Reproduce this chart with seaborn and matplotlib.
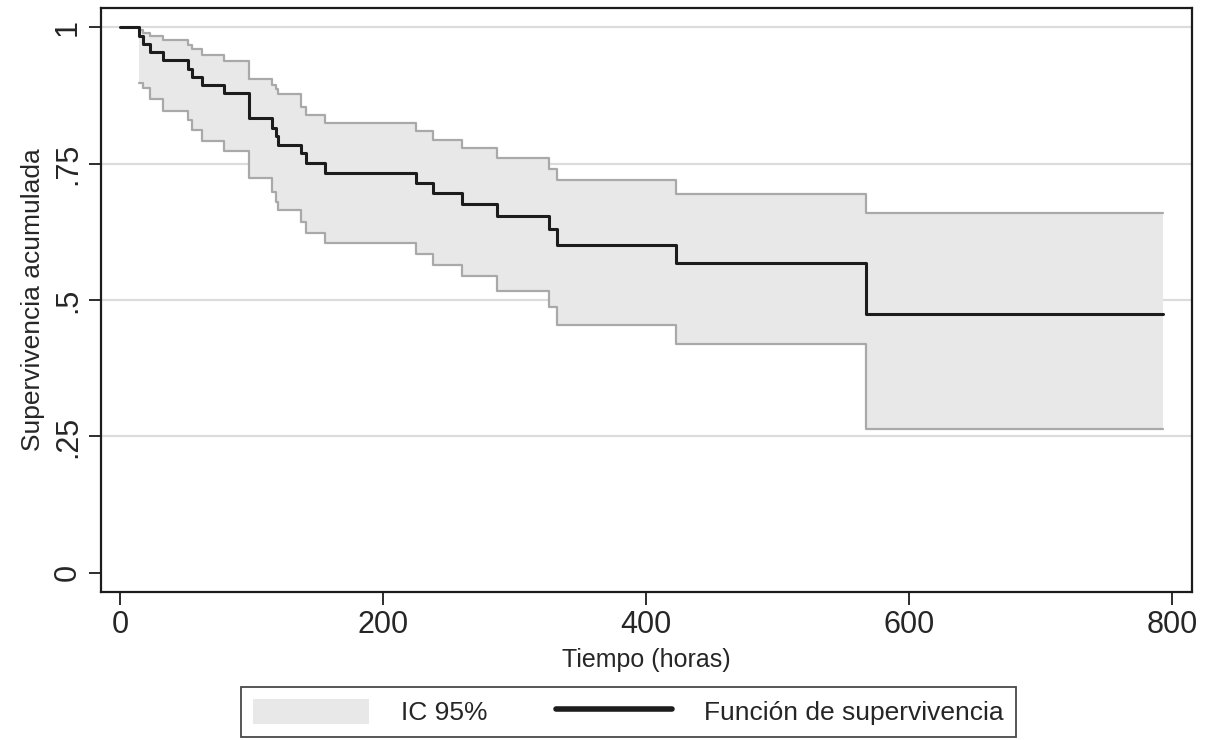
import matplotlib
matplotlib.use("Agg")
import matplotlib.pyplot as plt
import seaborn as sns
import pandas as pd
import numpy as np
from matplotlib.patches import Patch
from matplotlib.lines import Line2D

# Kaplan-Meier estimate
tiempo = [0, 14.7, 17.2, 22.8, 32.4, 52, 54.5, 62.1, 79, 98, 116, 118.4, 120.4,
          138, 141.8, 156, 225, 238, 260, 286.5, 326.5, 332, 423, 567, 793]
supervivencia = [1.0, 0.984, 0.970, 0.955, 0.940, 0.924, 0.909, 0.894, 0.879, 0.833,
                 0.815, 0.800, 0.784, 0.769, 0.751, 0.733, 0.715, 0.697, 0.676, 0.654,
                 0.630, 0.601, 0.568, 0.474, 0.474]
ic_superior = [np.nan, 0.995, 0.990, 0.984, 0.976, 0.968, 0.961, 0.949, 0.938, 0.906,
               0.894, 0.886, 0.878, 0.854, 0.839, 0.825, 0.810, 0.794, 0.778, 0.761,
               0.741, 0.720, 0.695, 0.660, 0.660]
ic_inferior = [np.nan, 0.897, 0.888, 0.869, 0.847, 0.830, 0.811, 0.791, 0.773, 0.723,
               0.698, 0.680, 0.665, 0.643, 0.622, 0.605, 0.584, 0.565, 0.544, 0.517,
               0.488, 0.455, 0.419, 0.263, 0.263]

x_ticks = [0, 200, 400, 600, 800]
y_ticks = [0, 0.25, 0.5, 0.75, 1]
y_tick_labels = ["0", ".25", ".5", ".75", "1"]

df = pd.DataFrame({"t": tiempo, "s": supervivencia, "hi": ic_superior, "lo": ic_inferior})
band = df.dropna()

sns.set_style("white")
plt.rcParams["font.family"] = ["Liberation Sans", "DejaVu Sans"]

fig = plt.figure(figsize=(12.11, 7.40), dpi=100)
ax = fig.add_axes([0.0834, 0.200, 0.9009, 0.789])

band_fill = "#e8e8e8"
band_edge = "#a9a9a9"

ax.fill_between(band["t"], band["lo"], band["hi"], step="post",
                color=band_fill, linewidth=0, zorder=1)
sns.lineplot(data=band, x="t", y="hi", estimator=None, drawstyle="steps-post",
             color=band_edge, linewidth=1.6, ax=ax, zorder=2)
sns.lineplot(data=band, x="t", y="lo", estimator=None, drawstyle="steps-post",
             color=band_edge, linewidth=1.6, ax=ax, zorder=2)
sns.lineplot(data=df, x="t", y="s", estimator=None, drawstyle="steps-post",
             color="#1c1c1c", linewidth=2.2, ax=ax, zorder=3)

ax.set_xlim(-14.4, 815.2)
ax.set_ylim(-0.035, 1.035)

for yv in [0.25, 0.5, 0.75, 1.0]:
    ax.axhline(yv, color="#dcdcdc", linewidth=1.6, zorder=0)

ax.set_xticks(x_ticks)
ax.set_xticklabels([str(v) for v in x_ticks])
ax.set_yticks(y_ticks)
ax.set_yticklabels(y_tick_labels, rotation=90, va="center")
ax.tick_params(axis="both", direction="out", length=9, width=1.3, color="#1c1c1c",
               labelsize=22, pad=4, left=True, bottom=True)
ax.set_xlabel("Tiempo (horas)", fontsize=18, labelpad=6)
ax.set_ylabel("Supervivencia acumulada", fontsize=19, labelpad=6)

for side in ["left", "bottom", "top", "right"]:
    ax.spines[side].set_visible(True)
    ax.spines[side].set_color("#1c1c1c")
    ax.spines[side].set_linewidth(1.6)

handles = [Patch(facecolor=band_fill, edgecolor="none"),
           Line2D([0], [0], color="#1c1c1c", linewidth=4)]
labels = ["IC 95%", "Función de supervivencia"]
leg = fig.legend(handles, labels, loc="center", bbox_to_anchor=(0.519, 0.038),
                 ncol=2, fontsize=19, frameon=True, fancybox=False,
                 handlelength=4.4, handleheight=1.1, handletextpad=1.2,
                 columnspacing=2.6, borderpad=0.45, borderaxespad=0)
leg.get_frame().set_edgecolor("#1c1c1c")
leg.get_frame().set_linewidth(1.3)

fig.savefig("out.png", dpi=100)
